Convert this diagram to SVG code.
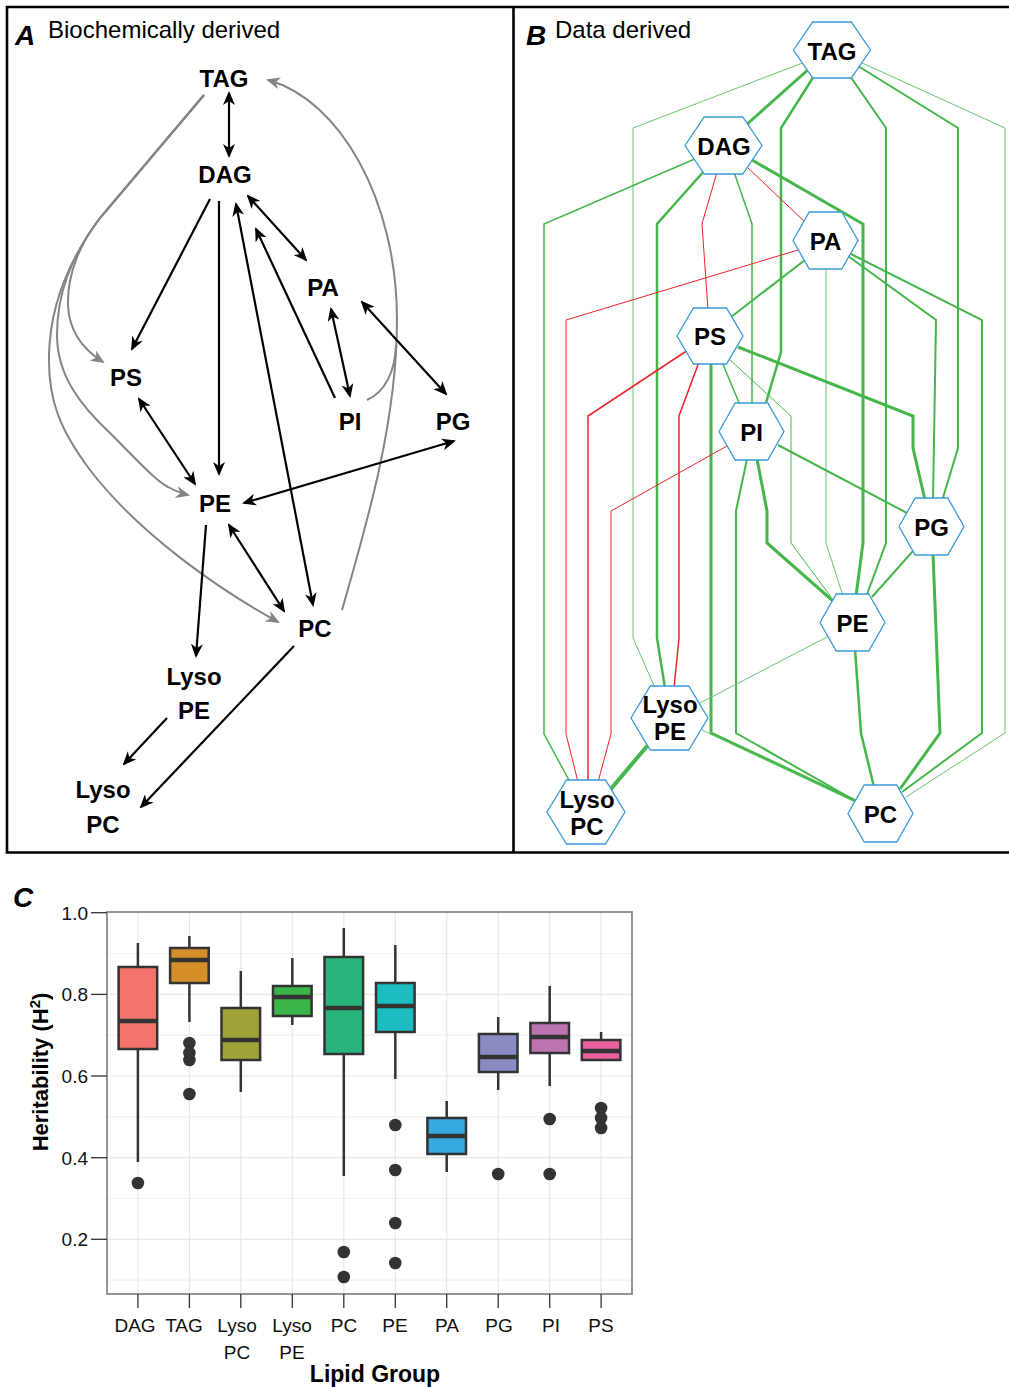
<svg xmlns="http://www.w3.org/2000/svg" width="1009" height="1387" viewBox="0 0 1009 1387">
<style>
.t{font-family:"Liberation Sans",Arial,sans-serif;fill:#000}
.lb{font-family:"Liberation Sans",Arial,sans-serif;font-weight:bold;font-size:24px;text-anchor:middle;fill:#000}
.blk{fill:none;stroke:#000;stroke-width:2.2}
.gry{fill:none;stroke:#858585;stroke-width:2}
.hex{fill:#fff;stroke:#3a9ad8;stroke-width:1.3}
.ge{fill:none;stroke:#45b649}
.gl{fill:none;stroke:#6cc46e}
.re{fill:none;stroke:#ec2329}
.w1{stroke-width:1}.w15{stroke-width:1.5}.w2{stroke-width:2}.w25{stroke-width:2.5}.w3{stroke-width:3}.w4{stroke-width:4}
.grid{stroke:#e8e8e8;stroke-width:1.2}
.gridm{stroke:#f2f2f2;stroke-width:1.2}
.box{stroke:#333;stroke-width:2.5}
.wh{stroke:#333;stroke-width:2.5}
.med{stroke:#333;stroke-width:4.5}
.out{fill:#333}
.tick{font-family:"Liberation Sans",Arial,sans-serif;font-size:19px;fill:#111}
</style>
<defs>
<marker id="ab" viewBox="0 0 14 12" refX="12" refY="6" markerWidth="14" markerHeight="12" markerUnits="userSpaceOnUse" orient="auto-start-reverse">
<path d="M0,0 L14,6 L0,12 L4,6 z" fill="#000"/>
</marker>
<marker id="ag" viewBox="0 0 14 12" refX="12" refY="6" markerWidth="14" markerHeight="12" markerUnits="userSpaceOnUse" orient="auto-start-reverse">
<path d="M0,0 L14,6 L0,12 L4,6 z" fill="#858585"/>
</marker>
</defs>
<rect width="1009" height="1387" fill="#fff"/>

<!-- Panel frames -->
<g id="frames">
<path d="M1015,7 H7 V852.5 H1015" fill="none" stroke="#000" stroke-width="2.6"/>
<line x1="513.5" y1="7" x2="513.5" y2="852.5" stroke="#000" stroke-width="2.6"/>
</g>

<!-- Panel A -->
<g id="panelA-title">
<text class="t" x="15" y="45" font-size="28" font-weight="bold" font-style="italic">A</text>
<text class="t" x="48" y="38" font-size="24">Biochemically derived</text>
</g>

<g id="connectorsA">
<g class="gry">
<path d="M204,95 L100,218 C 80,243 67,275 68,305 C 69,332 84,350 103,362" marker-end="url(#ag)"/>
<path d="M204,95 L100,218 C 70,258 57,295 57,335 C 57,375 80,405 110,433 C 135,458 155,480 168,487 C 175,491 180,493 188,495" marker-end="url(#ag)"/>
<path d="M204,95 L100,218 C 65,265 50,310 49,355 C 48,400 60,430 90,470 C 140,535 220,590 278,622" marker-end="url(#ag)"/>
<path d="M342,610 C 368,520 397,420 397,320 C 397,200 340,100 268,80" marker-end="url(#ag)"/>
<path d="M367,400 C 385,392 395,372 396,345"/>
</g>
<g class="blk">
<path d="M229,93 L229,156" marker-start="url(#ab)" marker-end="url(#ab)"/>
<path d="M210,199 L132,349" marker-end="url(#ab)"/>
<path d="M219,201 L219,474" marker-end="url(#ab)"/>
<path d="M236,204 L313,605" marker-start="url(#ab)" marker-end="url(#ab)"/>
<path d="M248,196 L306,260" marker-start="url(#ab)" marker-end="url(#ab)"/>
<path d="M335,398 L256,229" marker-end="url(#ab)"/>
<path d="M331,309 L350,396" marker-start="url(#ab)" marker-end="url(#ab)"/>
<path d="M362,302 L446,394" marker-start="url(#ab)" marker-end="url(#ab)"/>
<path d="M139,399 L195,484" marker-start="url(#ab)" marker-end="url(#ab)"/>
<path d="M244,503 L454,441" marker-start="url(#ab)" marker-end="url(#ab)"/>
<path d="M229,525 L284,611" marker-start="url(#ab)" marker-end="url(#ab)"/>
<path d="M206,525 L196,656" marker-end="url(#ab)"/>
<path d="M167,718 L124,764" marker-end="url(#ab)"/>
<path d="M294,646 L141,807" marker-end="url(#ab)"/>
</g>
</g>

<g id="A-TAG"><text class="lb" x="224" y="87">TAG</text></g>
<g id="A-DAG"><text class="lb" x="225" y="183">DAG</text></g>
<g id="A-PA"><text class="lb" x="323" y="296">PA</text></g>
<g id="A-PS"><text class="lb" x="126" y="386">PS</text></g>
<g id="A-PI"><text class="lb" x="350" y="430">PI</text></g>
<g id="A-PG"><text class="lb" x="453" y="430">PG</text></g>
<g id="A-PE"><text class="lb" x="215" y="512">PE</text></g>
<g id="A-PC"><text class="lb" x="315" y="637">PC</text></g>
<g id="A-LysoPE"><text class="lb" x="194" y="685">Lyso</text><text class="lb" x="194" y="719">PE</text></g>
<g id="A-LysoPC"><text class="lb" x="103" y="798">Lyso</text><text class="lb" x="103" y="833">PC</text></g>

<!-- Panel B -->
<g id="panelB-title">
<text class="t" x="526" y="45" font-size="28" font-weight="bold" font-style="italic">B</text>
<text class="t" x="555" y="38" font-size="24">Data derived</text>
</g>

<g id="connectorsB">
<path class="gl w1" d="M805,62 L633,128 L633,638 L655,688"/>
<path class="ge w3" d="M810,68 L745,126"/>
<path class="ge w25" d="M814,76 L781,128 L781,352 L765,406"/>
<path class="ge w2" d="M850,76 L886,128 L886,543 L866,597"/>
<path class="ge w2" d="M858,66 L958,128 L958,448 L942,501"/>
<path class="gl w1" d="M860,62 L1005,128 L1005,733 L906,797"/>
<path class="ge w15" d="M697,158 L544,224 L544,734 L570,782"/>
<path class="ge w25" d="M705,170 L657,224 L657,638 L665,688"/>
<path class="re w1" d="M717,172 L702,224 L708,310"/>
<path class="ge w15" d="M734,172 L752,224 L752,405"/>
<path class="re w1" d="M747,167 L806,223"/>
<path class="ge w3" d="M752,160 L863,224 L863,543 L856,596"/>
<path class="re w1" d="M798,250 L566,320 L566,734 L578,782"/>
<path class="ge w2" d="M805,260 L731,317"/>
<path class="gl w1" d="M826,268 L826,543 L843,596"/>
<path class="ge w2" d="M848,256 L936,320 L933,500"/>
<path class="ge w2" d="M851,254 L982,320 L982,733 L902,792"/>
<path class="re w15" d="M688,350 L588,416 L588,782"/>
<path class="re w15" d="M699,362 L679,416 L679,638 L674,688"/>
<path class="ge w3" d="M711,362 L711,733 L856,801"/>
<path class="ge w15" d="M722,362 L740,405"/>
<path class="ge w1" d="M728,358 L791,416 L791,543 L831,597"/>
<path class="ge w3" d="M738,347 L913,416 L913,448 L925,500"/>
<path class="re w1" d="M727,446 L611,511 L611,734 L598,782"/>
<path class="ge w2" d="M747,459 L736,511 L736,733 L854,800"/>
<path class="ge w3" d="M757,459 L767,511 L767,543 L833,601"/>
<path class="ge w2" d="M778,445 L907,513"/>
<path class="ge w2" d="M913,551 L872,597"/>
<path class="ge w3" d="M933,553 L940,733 L900,789"/>
<path class="ge w25" d="M855,649 L861,733 L874,787"/>
<path class="gl w1" d="M829,636 L700,703"/>
<path class="ge w4" d="M648,745 L610,790"/>
<path class="gl w1" d="M702,730 L855,802"/>
</g>

<g id="B-TAG"><polygon class="hex" points="793.5,50 812.75,22 851.25,22 870.5,50 851.25,78 812.75,78"/><text class="lb" x="832" y="60">TAG</text></g>
<g id="B-DAG"><polygon class="hex" points="685,145.5 704.25,117 742.75,117 762,145.5 742.75,174 704.25,174"/><text class="lb" x="724" y="155">DAG</text></g>
<g id="B-PA"><polygon class="hex" points="793,240.5 809.25,212 841.75,212 858,240.5 841.75,269 809.25,269"/><text class="lb" x="825.5" y="250">PA</text></g>
<g id="B-PS"><polygon class="hex" points="677,336 693.5,308 726.5,308 743,336 726.5,364 693.5,364"/><text class="lb" x="710" y="345">PS</text></g>
<g id="B-PI"><polygon class="hex" points="719,431.5 735.25,403 767.75,403 784,431.5 767.75,460 735.25,460"/><text class="lb" x="751.5" y="441">PI</text></g>
<g id="B-PG"><polygon class="hex" points="899,526.5 915.25,498 947.75,498 964,526.5 947.75,555 915.25,555"/><text class="lb" x="931.5" y="536">PG</text></g>
<g id="B-PE"><polygon class="hex" points="820,622.5 836.25,594 868.75,594 885,622.5 868.75,651 836.25,651"/><text class="lb" x="852.5" y="632">PE</text></g>
<g id="B-LysoPE"><polygon class="hex" points="631,718 650.25,686 688.75,686 708,718 688.75,750 650.25,750"/><text class="lb" x="670" y="713">Lyso</text><text class="lb" x="670" y="740">PE</text></g>
<g id="B-LysoPC"><polygon class="hex" points="547,812 566.5,780 605.5,780 625,812 605.5,844 566.5,844"/><text class="lb" x="587" y="808">Lyso</text><text class="lb" x="587" y="835">PC</text></g>
<g id="B-PC"><polygon class="hex" points="848,813.5 864.25,785 896.75,785 913,813.5 896.75,842 864.25,842"/><text class="lb" x="880.5" y="823">PC</text></g>

<!-- Panel C -->
<g id="panelC">
<text class="t" x="13" y="907" font-size="28" font-weight="bold" font-style="italic">C</text>
<g id="grid">
<line class="gridm" x1="107" x2="632" y1="953.5" y2="953.5"/>
<line class="gridm" x1="107" x2="632" y1="1035.2" y2="1035.2"/>
<line class="gridm" x1="107" x2="632" y1="1116.8" y2="1116.8"/>
<line class="gridm" x1="107" x2="632" y1="1198.5" y2="1198.5"/>
<line class="gridm" x1="107" x2="632" y1="1280.2" y2="1280.2"/>
<line class="grid" x1="107" x2="632" y1="994.4" y2="994.4"/>
<line class="grid" x1="107" x2="632" y1="1076" y2="1076"/>
<line class="grid" x1="107" x2="632" y1="1157.7" y2="1157.7"/>
<line class="grid" x1="107" x2="632" y1="1239.3" y2="1239.3"/>
<line class="grid" x1="137.9" x2="137.9" y1="912" y2="1294"/>
<line class="grid" x1="189.4" x2="189.4" y1="912" y2="1294"/>
<line class="grid" x1="240.8" x2="240.8" y1="912" y2="1294"/>
<line class="grid" x1="292.3" x2="292.3" y1="912" y2="1294"/>
<line class="grid" x1="343.8" x2="343.8" y1="912" y2="1294"/>
<line class="grid" x1="395.3" x2="395.3" y1="912" y2="1294"/>
<line class="grid" x1="446.7" x2="446.7" y1="912" y2="1294"/>
<line class="grid" x1="498.2" x2="498.2" y1="912" y2="1294"/>
<line class="grid" x1="549.7" x2="549.7" y1="912" y2="1294"/>
<line class="grid" x1="601.1" x2="601.1" y1="912" y2="1294"/>
</g>

<g id="box-DAG">
<line class="wh" x1="137.9" x2="137.9" y1="943" y2="1162"/>
<rect class="box" x="118.6" y="967" width="38.6" height="82" fill="#f2746d"/>
<line class="med" x1="118.6" x2="157.2" y1="1021" y2="1021"/>
<circle class="out" cx="137.9" cy="1183" r="6.3"/>
</g>
<g id="box-TAG">
<line class="wh" x1="189.4" x2="189.4" y1="936" y2="1022"/>
<rect class="box" x="170.1" y="948" width="38.6" height="35" fill="#d58e2a"/>
<line class="med" x1="170.1" x2="208.7" y1="960" y2="960"/>
<circle class="out" cx="189.4" cy="1043" r="6.3"/>
<circle class="out" cx="189.4" cy="1053" r="6.3"/>
<circle class="out" cx="189.4" cy="1060" r="6.3"/>
<circle class="out" cx="189.4" cy="1094" r="6.3"/>
</g>
<g id="box-LysoPC">
<line class="wh" x1="240.8" x2="240.8" y1="971" y2="1092"/>
<rect class="box" x="221.5" y="1008" width="38.6" height="52" fill="#a0a33a"/>
<line class="med" x1="221.5" x2="260.1" y1="1040" y2="1040"/>
</g>
<g id="box-LysoPE">
<line class="wh" x1="292.3" x2="292.3" y1="958" y2="1025"/>
<rect class="box" x="273" y="986" width="38.6" height="30" fill="#3bb44a"/>
<line class="med" x1="273" x2="311.6" y1="997" y2="997"/>
</g>
<g id="box-PC">
<line class="wh" x1="343.8" x2="343.8" y1="928" y2="1176"/>
<rect class="box" x="324.5" y="957" width="38.6" height="97" fill="#27b57b"/>
<line class="med" x1="324.5" x2="363.1" y1="1008" y2="1008"/>
<circle class="out" cx="343.8" cy="1252" r="6.3"/>
<circle class="out" cx="343.8" cy="1277" r="6.3"/>
</g>
<g id="box-PE">
<line class="wh" x1="395.3" x2="395.3" y1="945" y2="1079"/>
<rect class="box" x="376" y="983" width="38.6" height="49" fill="#1bbdc2"/>
<line class="med" x1="376" x2="414.6" y1="1006" y2="1006"/>
<circle class="out" cx="395.3" cy="1125" r="6.3"/>
<circle class="out" cx="395.3" cy="1170" r="6.3"/>
<circle class="out" cx="395.3" cy="1223" r="6.3"/>
<circle class="out" cx="395.3" cy="1263" r="6.3"/>
</g>
<g id="box-PA">
<line class="wh" x1="446.7" x2="446.7" y1="1101" y2="1172"/>
<rect class="box" x="427.4" y="1118" width="38.6" height="36" fill="#34aae0"/>
<line class="med" x1="427.4" x2="466" y1="1136" y2="1136"/>
</g>
<g id="box-PG">
<line class="wh" x1="498.2" x2="498.2" y1="1017" y2="1090"/>
<rect class="box" x="478.9" y="1034" width="38.6" height="38" fill="#8b8bc3"/>
<line class="med" x1="478.9" x2="517.5" y1="1057" y2="1057"/>
<circle class="out" cx="498.2" cy="1174" r="6.3"/>
</g>
<g id="box-PI">
<line class="wh" x1="549.7" x2="549.7" y1="986" y2="1086"/>
<rect class="box" x="530.4" y="1023" width="38.6" height="30" fill="#bb74b0"/>
<line class="med" x1="530.4" x2="569" y1="1037" y2="1037"/>
<circle class="out" cx="549.7" cy="1119" r="6.3"/>
<circle class="out" cx="549.7" cy="1174" r="6.3"/>
</g>
<g id="box-PS">
<line class="wh" x1="601.1" x2="601.1" y1="1032" y2="1060"/>
<rect class="box" x="581.8" y="1040" width="38.6" height="20" fill="#eb609f"/>
<line class="med" x1="581.8" x2="620.4" y1="1051" y2="1051"/>
<circle class="out" cx="601.1" cy="1108" r="6.3"/>
<circle class="out" cx="601.1" cy="1118" r="6.3"/>
<circle class="out" cx="601.1" cy="1128" r="6.3"/>
</g>

<rect x="107" y="912" width="525" height="382" fill="none" stroke="#8a8a8a" stroke-width="1.8"/>

<g id="axes" stroke="#333" stroke-width="1.3">
<line x1="91" x2="107" y1="912.7" y2="912.7"/>
<line x1="91" x2="107" y1="994.4" y2="994.4"/>
<line x1="91" x2="107" y1="1076" y2="1076"/>
<line x1="91" x2="107" y1="1157.7" y2="1157.7"/>
<line x1="91" x2="107" y1="1239.3" y2="1239.3"/>
<line x1="137.9" x2="137.9" y1="1294" y2="1308"/>
<line x1="189.4" x2="189.4" y1="1294" y2="1308"/>
<line x1="240.8" x2="240.8" y1="1294" y2="1308"/>
<line x1="292.3" x2="292.3" y1="1294" y2="1308"/>
<line x1="343.8" x2="343.8" y1="1294" y2="1308"/>
<line x1="395.3" x2="395.3" y1="1294" y2="1308"/>
<line x1="446.7" x2="446.7" y1="1294" y2="1308"/>
<line x1="498.2" x2="498.2" y1="1294" y2="1308"/>
<line x1="549.7" x2="549.7" y1="1294" y2="1308"/>
<line x1="601.1" x2="601.1" y1="1294" y2="1308"/>
</g>
<g id="ylabels" class="tick" text-anchor="end">
<text x="88" y="919.5">1.0</text>
<text x="88" y="1001">0.8</text>
<text x="88" y="1083">0.6</text>
<text x="88" y="1164.5">0.4</text>
<text x="88" y="1246">0.2</text>
</g>
<g id="xlabels" class="tick" text-anchor="middle">
<text x="135" y="1332">DAG</text>
<text x="184" y="1332">TAG</text>
<text x="237" y="1332">Lyso</text><text x="237" y="1359">PC</text>
<text x="292" y="1332">Lyso</text><text x="292" y="1359">PE</text>
<text x="344" y="1332">PC</text>
<text x="395" y="1332">PE</text>
<text x="447" y="1332">PA</text>
<text x="499" y="1332">PG</text>
<text x="551" y="1332">PI</text>
<text x="601" y="1332">PS</text>
</g>
<text class="t" x="375" y="1382" font-size="23" font-weight="bold" text-anchor="middle">Lipid Group</text>
<text class="t" transform="translate(48,1072) rotate(-90)" font-size="22" font-weight="bold" text-anchor="middle">Heritability (H<tspan font-size="15" dy="-8">2</tspan><tspan dy="8">)</tspan></text>
</g>
</svg>
